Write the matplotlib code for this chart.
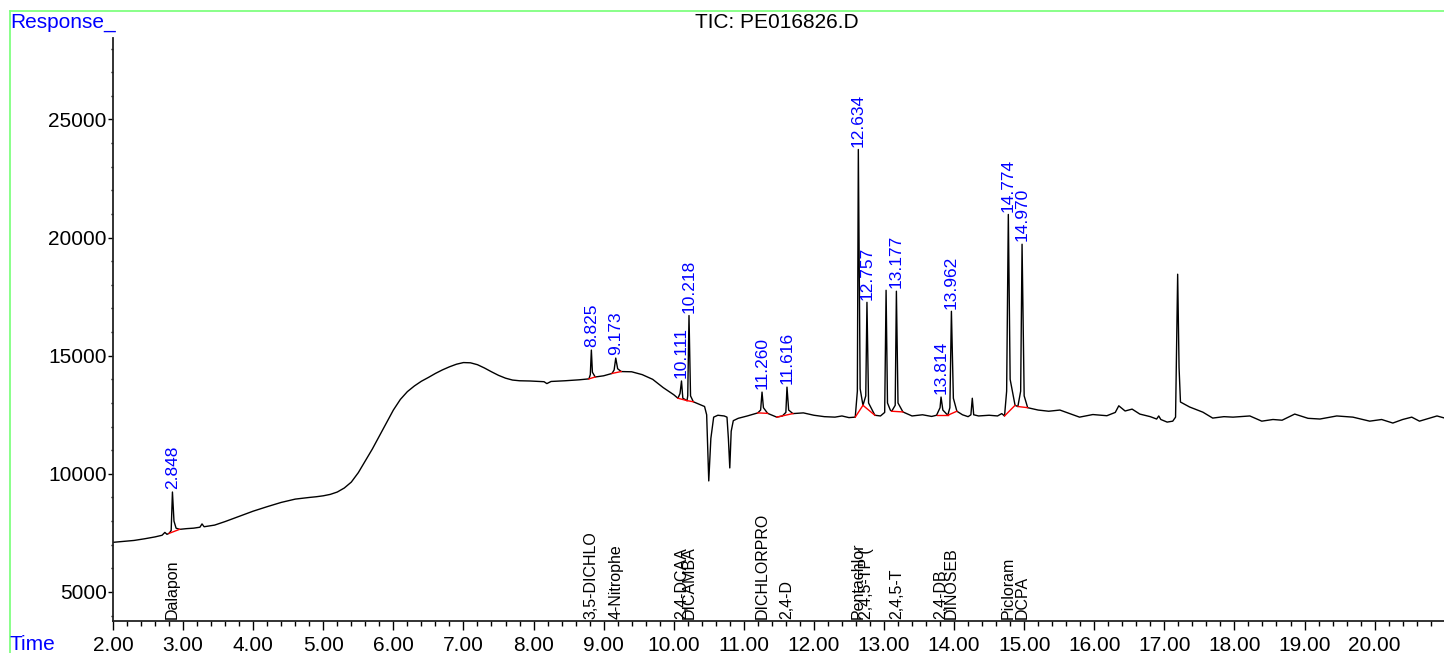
import numpy as np
import matplotlib
matplotlib.use("Agg")
import matplotlib.pyplot as plt
from matplotlib.ticker import MultipleLocator, FormatStrFormatter

plt.rcParams['font.family'] = ['Liberation Sans', 'DejaVu Sans']

# TIC trace (minutes, response)
trace_time = [
    2.00, 2.15, 2.30, 2.45, 2.60, 2.70, 2.74, 2.77, 2.80, 2.83, 2.848, 2.87, 2.90, 2.95,
    3.05, 3.15, 3.24, 3.27, 3.30, 3.45, 3.60, 3.80, 4.00, 4.20, 4.40, 4.60, 4.80, 4.90,
    5.00, 5.10, 5.20, 5.30, 5.40, 5.50, 5.60, 5.70, 5.80, 5.90, 6.00, 6.10, 6.20, 6.30,
    6.40, 6.50, 6.60, 6.70, 6.80, 6.90, 7.00, 7.10, 7.20, 7.30, 7.40, 7.50, 7.60, 7.70,
    7.80, 7.95, 8.15, 8.19, 8.25, 8.45, 8.65, 8.79, 8.81, 8.825, 8.84, 8.88,
    9.00, 9.12, 9.15, 9.173, 9.20, 9.25, 9.40, 9.55, 9.70, 9.85, 10.00, 10.06, 10.09,
    10.111, 10.13, 10.19, 10.20, 10.218, 10.24, 10.28, 10.36, 10.44, 10.47, 10.50, 10.53,
    10.57, 10.63, 10.72, 10.76, 10.78, 10.80, 10.82, 10.85, 10.92, 11.05, 11.20, 11.24,
    11.260, 11.28, 11.34, 11.47, 11.55, 11.60, 11.616, 11.64, 11.70, 11.85, 12.00, 12.15,
    12.30, 12.40, 12.50, 12.59, 12.62, 12.634, 12.66, 12.70, 12.74, 12.757, 12.78, 12.87,
    12.95, 13.01, 13.03, 13.05, 13.09, 13.11, 13.16, 13.177, 13.20, 13.27, 13.40, 13.55,
    13.68, 13.75, 13.80, 13.814, 13.84, 13.91, 13.94, 13.962, 13.99, 14.04, 14.12, 14.20,
    14.24, 14.26, 14.28, 14.35, 14.50, 14.62, 14.68, 14.72, 14.75, 14.774, 14.80, 14.87,
    14.91, 14.95, 14.970, 15.00, 15.05, 15.20, 15.35, 15.51, 15.65, 15.79, 15.98, 16.18,
    16.30, 16.35, 16.44, 16.54, 16.65, 16.80, 16.89, 16.92, 16.95, 17.04, 17.12, 17.16,
    17.19, 17.21, 17.23, 17.36, 17.55, 17.69, 17.85, 17.98, 18.22, 18.39, 18.55, 18.68,
    18.86, 19.05, 19.22, 19.46, 19.69, 19.93, 20.10, 20.26, 20.40, 20.53, 20.64, 20.89,
    21.00,
]
trace_resp = [
    7100, 7140, 7180, 7250, 7330, 7400, 7520, 7440, 7480, 7600, 9230, 8000, 7700, 7650,
    7680, 7700, 7740, 7880, 7760, 7830, 7980, 8200, 8420, 8610, 8790, 8930, 9000, 9030,
    9070, 9130, 9230, 9400, 9650, 10050, 10550, 11050, 11600, 12150, 12700, 13150, 13480, 13720,
    13920, 14080, 14250, 14400, 14530, 14640, 14710, 14700, 14620, 14480, 14320, 14170, 14050, 13970,
    13940, 13930, 13900, 13820, 13910, 13940, 13980, 14020, 14200, 15240, 14300, 14100,
    14150, 14250, 14400, 14900, 14450, 14330, 14320, 14200, 14000, 13650, 13350, 13200, 13400,
    13930, 13200, 13100, 13300, 16700, 13300, 13050, 12950, 12850, 12500, 9700, 11500,
    12400, 12480, 12450, 12400, 11500, 10250, 11800, 12250, 12350, 12450, 12580, 12700,
    13460, 12800, 12560, 12400, 12450, 12600, 13670, 12700, 12550, 12580, 12480, 12420,
    12400, 12450, 12380, 12400, 13500, 23730, 13600, 12900, 13300, 17260, 13000, 12480,
    12450, 12600, 17770, 13000, 12700, 12650, 12900, 17730, 13000, 12620, 12450, 12500,
    12430, 12480, 12800, 13250, 12700, 12480, 12800, 16880, 13200, 12650, 12500, 12420,
    12500, 13200, 12500, 12450, 12480, 12450, 12550, 12450, 13500, 20980, 14000, 12900,
    12850, 13500, 19720, 13300, 12800, 12700, 12650, 12700, 12550, 12400, 12510, 12460,
    12600, 12880, 12660, 12740, 12530, 12420, 12320, 12450, 12300, 12190, 12230, 12400,
    18450, 14500, 13040, 12830, 12610, 12360, 12420, 12400, 12450, 12230, 12300, 12270,
    12530, 12350, 12320, 12450, 12400, 12230, 12300, 12150, 12300, 12400, 12230, 12450,
    12360,
]

# integrated peaks
peak_rt = [2.848, 8.825, 9.173, 10.111, 10.218, 11.260, 11.616,
           12.634, 12.757, 13.177, 13.814, 13.962, 14.774, 14.970]
compound_names = ["Dalapon", "3,5-DICHLO", "4-Nitrophe", "2,4-DCAA", "DICAMBA",
                  "DICHLORPRO", "2,4-D", "Pentachlor", "2,4,5-TP (", "2,4,5-T",
                  "2,4-DB", "DINOSEB", "Picloram", "DCPA"]

# integration baselines (start / end time)
base_start = [2.80, 8.79, 9.12, 10.06, 10.19, 11.20, 11.47,
              12.59, 12.70, 13.11, 13.75, 13.91, 14.72, 14.91]
base_end = [2.95, 8.88, 9.25, 10.19, 10.28, 11.34, 11.70,
            12.70, 12.87, 13.27, 13.91, 14.04, 14.87, 15.05]


def chromatogram():
    fig = plt.figure(figsize=(14.44, 6.53), dpi=100)
    ax = fig.add_axes([113 / 1444, 1 - 621 / 653, 1 - 113 / 1444, (621 - 38) / 653])

    t = np.array(trace_time)
    r = np.array(trace_resp)
    ax.plot(t, r, color='black', linewidth=1.0)

    # red baselines under each peak
    for t0, t1 in zip(base_start, base_end):
        ax.plot([t0, t1], [np.interp(t0, t, r), np.interp(t1, t, r)],
                color='red', linewidth=1.0)

    # retention time labels + compound names
    for rt, name in zip(peak_rt, compound_names):
        ax.annotate(f"{rt:.3f}", xy=(rt, np.interp(rt, t, r)), xytext=(0, 2),
                    textcoords='offset points', rotation=90, ha='center', va='bottom',
                    color='blue', fontsize=12.5)
        ax.annotate(name, xy=(rt, 0), xycoords=('data', 'axes fraction'),
                    xytext=(0, 1.5), textcoords='offset points', rotation=90,
                    ha='center', va='bottom', color='black', fontsize=11.5)

    ax.set_xlim(2.0, 20.99)
    ax.set_ylim(3770, 28450)
    ax.spines['top'].set_visible(False)
    ax.spines['right'].set_visible(False)
    for s in ('left', 'bottom'):
        ax.spines[s].set_linewidth(1.3)
        ax.spines[s].set_color('#222222')

    ax.xaxis.set_major_locator(MultipleLocator(1.0))
    ax.xaxis.set_minor_locator(MultipleLocator(0.2))
    ax.xaxis.set_major_formatter(FormatStrFormatter('%.2f'))
    ax.yaxis.set_major_locator(MultipleLocator(5000))
    ax.yaxis.set_minor_locator(MultipleLocator(1000))
    ax.tick_params(axis='x', which='major', length=6.5, width=1, pad=4, labelsize=15)
    ax.tick_params(axis='x', which='minor', length=3.5, width=1)
    ax.tick_params(axis='y', which='major', length=3.5, width=1, pad=1, labelsize=15)
    ax.tick_params(axis='y', which='minor', length=1.7, width=1)
    ax.patch.set_visible(False)

    # green frame round the page
    fig.add_artist(plt.Line2D([9.5 / 1444, 1], [1 - 10.5 / 653] * 2, color='#80ff80', linewidth=1.3))
    fig.add_artist(plt.Line2D([9.5 / 1444] * 2, [0, 1 - 10.5 / 653], color='#80ff80', linewidth=1.3))

    fig.text(10 / 1444, 1 - 22 / 653, "Response_", color='blue', fontsize=15, va='center')
    fig.text(10 / 1444, 1 - 645 / 653, "Time", color='blue', fontsize=15, va='center')
    fig.text(777 / 1444, 1 - 23 / 653, "TIC: PE016826.D", color='black', fontsize=15,
             ha='center', va='center')

    fig.savefig("out.png", dpi=100)


def main():
    chromatogram()


if __name__ == "__main__":
    main()
